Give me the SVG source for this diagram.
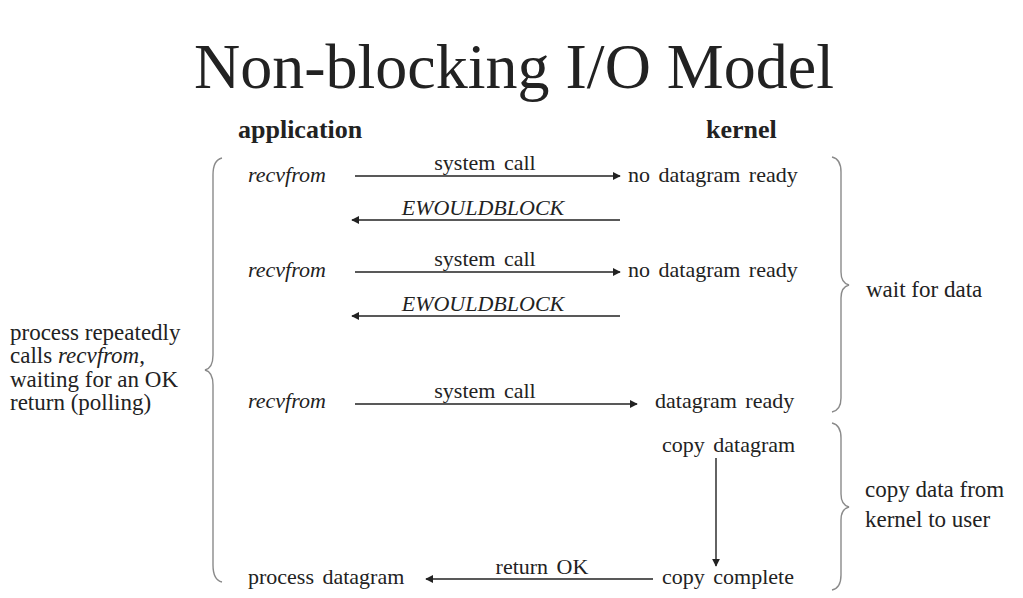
<svg xmlns="http://www.w3.org/2000/svg" width="1023" height="598" viewBox="0 0 1023 598">
<defs>
<style>
text{font-family:"Liberation Serif","Times New Roman",serif;fill:#222;}
.t{font-size:22px;word-spacing:3px;}
.n{word-spacing:0px;font-size:23px;}
.i{font-style:italic;}
.h{font-size:26px;font-weight:bold;}
.title{font-size:64px;}
.c{stroke:#222;stroke-width:1.4;fill:none;}
.b{stroke:#8a8a8a;stroke-width:1.4;fill:none;}
</style>
<marker id="ah" viewBox="0 0 10 10" refX="9" refY="5" markerWidth="8" markerHeight="8" markerUnits="userSpaceOnUse" orient="auto">
<path d="M0,0 L10,5 L0,10 z" fill="#222"/>
</marker>
</defs>
<rect width="1023" height="598" fill="#fff"/>
<text class="title" x="514" y="88" text-anchor="middle">Non-blocking I/O Model</text>
<g id="headers">
<text class="h" x="238" y="138">application</text>
<text class="h" x="706" y="138">kernel</text>
</g>
<g id="app">
<text class="t i" x="248" y="182">recvfrom</text>
<text class="t i" x="248" y="277">recvfrom</text>
<text class="t i" x="248" y="408">recvfrom</text>
<text class="t" x="248" y="584">process datagram</text>
</g>
<g id="kernel">
<text class="t" x="628" y="182">no datagram ready</text>
<text class="t" x="628" y="277">no datagram ready</text>
<text class="t" x="655" y="408">datagram ready</text>
<text class="t" x="662" y="452">copy datagram</text>
<text class="t" x="662" y="584">copy complete</text>
</g>
<g id="labels">
<text class="t" x="485" y="170" text-anchor="middle">system call</text>
<text class="t i" x="483" y="215" text-anchor="middle">EWOULDBLOCK</text>
<text class="t" x="485" y="266" text-anchor="middle">system call</text>
<text class="t i" x="483" y="311" text-anchor="middle">EWOULDBLOCK</text>
<text class="t" x="485" y="398" text-anchor="middle">system call</text>
<text class="t" x="542" y="574" text-anchor="middle">return OK</text>
</g>
<g id="side">
<text class="t n" x="10" y="340">process repeatedly</text>
<text class="t n" x="10" y="363">calls <tspan class="i">recvfrom</tspan>,</text>
<text class="t n" x="10" y="387">waiting for an OK</text>
<text class="t n" x="10" y="410">return (polling)</text>
<text class="t n" x="866" y="297">wait for data</text>
<text class="t n" x="865" y="497">copy data from</text>
<text class="t n" x="865" y="527">kernel to user</text>
</g>
<g id="connectors">
<line class="c" x1="355" y1="176" x2="620" y2="176" marker-end="url(#ah)"/>
<line class="c" x1="620" y1="220" x2="352" y2="220" marker-end="url(#ah)"/>
<line class="c" x1="355" y1="272" x2="620" y2="272" marker-end="url(#ah)"/>
<line class="c" x1="620" y1="316" x2="352" y2="316" marker-end="url(#ah)"/>
<line class="c" x1="355" y1="404" x2="637" y2="404" marker-end="url(#ah)"/>
<line class="c" x1="716" y1="458" x2="716" y2="566" marker-end="url(#ah)"/>
<line class="c" x1="653" y1="579" x2="426" y2="579" marker-end="url(#ah)"/>
</g>
<g id="braces">
<path class="b" d="M222,158 Q213,160 213,175 L213,355 Q213,368 205,370 Q213,372 213,385 L213,565 Q213,580 222,582"/>
<path class="b" d="M832,157 Q841,159 841,172 L841,272 Q841,283 849,285 Q841,287 841,298 L841,398 Q841,410 832,412"/>
<path class="b" d="M832,423 Q841,425 841,438 L841,494 Q841,505 849,507 Q841,509 841,520 L841,575 Q841,588 832,590"/>
</g>
</svg>
